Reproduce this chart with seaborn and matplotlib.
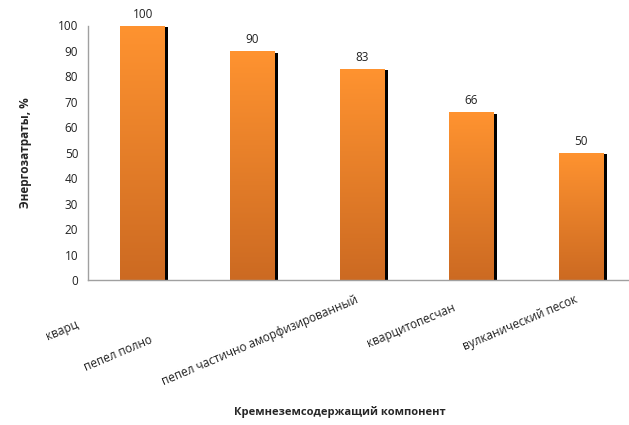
import numpy as np
import pandas as pd
import matplotlib
matplotlib.use("Agg")
import matplotlib.pyplot as plt
import matplotlib.patheffects as pe
from matplotlib.colors import LinearSegmentedColormap
import seaborn as sns

categories = ["кварц", "пепел полно", "пепел частично аморфизированный",
              "кварцитопесчан", "вулканический песок"]
values = [100, 90, 83, 66, 50]
y_ticks = [0, 10, 20, 30, 40, 50, 60, 70, 80, 90, 100]

# label placement (offset from category centre, y in data units)
label_dx = [-0.59, -0.92, -0.04, -0.15, -0.04]
label_y = [-17.0, -23.3, -7.5, -10.7, -7.5]

sns.set_style("white")
plt.rcParams['font.family'] = ['Open Sans', 'DejaVu Sans']

fig = plt.figure(figsize=(6.29, 4.25), dpi=100)
ax = fig.add_axes([88/629, (425-280)/425, 548/629, 254.5/425])

df = pd.DataFrame({"cat": categories, "val": values})
sns.barplot(data=df, x="cat", y="val", color="#F38B2E", width=0.41, ax=ax,
            saturation=1, linewidth=0)

cmap = LinearSegmentedColormap.from_list("g", ["#CC6A22", "#FF9330"])
grad = np.linspace(0, 1, 256).reshape(-1, 1)
for i, p in enumerate(list(ax.patches)):
    p.set_path_effects([pe.SimplePatchShadow(offset=(2.3, -1.2), shadow_rgbFace="black", alpha=1.0),
                        pe.Normal()])
    x0, y0 = p.get_x(), p.get_y()
    w, h = p.get_width(), p.get_height()
    im = ax.imshow(grad, extent=[x0, x0 + w, y0, y0 + h], origin="lower",
                   cmap=cmap, aspect="auto", zorder=p.get_zorder() + 0.1)
    im.set_clip_path(p)
    ax.text(x0 + w/2, y0 + h + 1.8, f"{values[i]}", ha="center",
            va="bottom", fontsize=8.5, color="#222222")

ax.set_xlim(-0.5, 4.5)
ax.set_ylim(0, 100)
ax.set_yticks(y_ticks)
ax.set_yticklabels([str(t) for t in y_ticks], fontsize=8.5, color="#222222")
ax.set_xticks(np.arange(-0.5, 5.0, 1.0))
ax.set_xticklabels([])
ax.tick_params(axis="x", direction="out", length=4, color="#A0A0A0", width=1)
ax.tick_params(axis="y", direction="out", length=4, color="#A0A0A0", width=1, pad=3)

for s in ["top", "right"]:
    ax.spines[s].set_visible(False)
for s in ["left", "bottom"]:
    ax.spines[s].set_color("#A0A0A0")
    ax.spines[s].set_linewidth(1)
ax.set_xlabel("")
ax.set_ylabel("Энергозатраты, %", fontsize=8.5, fontweight="bold", labelpad=19)

for i, (lab, dx, yy) in enumerate(zip(categories, label_dx, label_y)):
    ax.text(i + dx, yy, lab, ha="right", va="center", rotation=23,
            rotation_mode="anchor", fontsize=8.5, color="#222222",
            clip_on=False)

fig.text(340/629, 1 - 412/425, "Кремнеземсодержащий компонент", ha="center",
         va="center", fontsize=8, fontweight="bold")

fig.savefig("out.png", dpi=100)
